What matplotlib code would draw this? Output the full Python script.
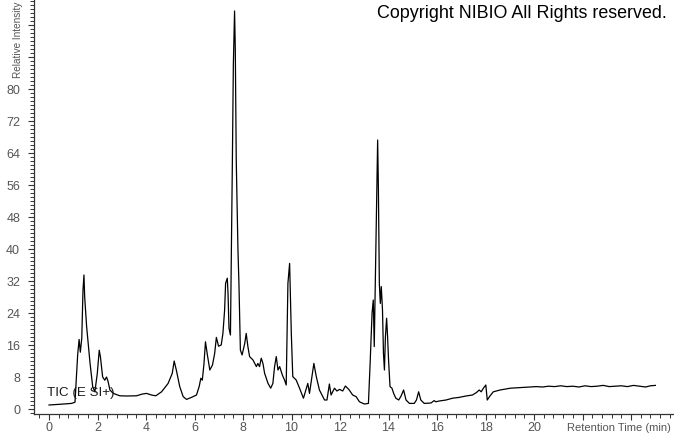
import matplotlib
matplotlib.use("Agg")
import matplotlib.pyplot as plt
from matplotlib.ticker import MultipleLocator

plt.rcParams["font.family"] = ["Liberation Sans", "DejaVu Sans"]

# retention time (min) and relative intensity
rt = [0.00, 0.50, 0.93, 1.07, 1.18, 1.24, 1.29, 1.35, 1.40, 1.44, 1.47, 1.55,
      1.69, 1.80, 1.89, 1.99, 2.07, 2.12, 2.21, 2.30, 2.37, 2.43, 2.51, 2.65,
      2.92, 3.20, 3.61, 3.82, 4.02, 4.22, 4.40, 4.64, 4.91, 5.08, 5.16, 5.25,
      5.39, 5.53, 5.67, 5.87, 6.08, 6.19, 6.26, 6.32, 6.39, 6.45, 6.53, 6.63,
      6.74, 6.83, 6.90, 6.99, 7.10, 7.17, 7.24, 7.28, 7.35, 7.38, 7.42, 7.48,
      7.52, 7.56, 7.60, 7.65, 7.68, 7.72, 7.79, 7.83, 7.89, 7.96, 8.07, 8.13,
      8.20, 8.27, 8.41, 8.55, 8.61, 8.68, 8.75, 8.82, 8.89, 9.03, 9.14, 9.23,
      9.30, 9.37, 9.44, 9.51, 9.62, 9.71, 9.78, 9.85, 9.92, 9.99, 10.05, 10.19,
      10.33, 10.49, 10.53, 10.67, 10.74, 10.92, 11.02, 11.15, 11.36, 11.46,
      11.56, 11.63, 11.77, 11.87, 11.98, 12.11, 12.22, 12.36, 12.52, 12.66,
      12.80, 13.00, 13.17, 13.24, 13.32, 13.37, 13.41, 13.46, 13.52, 13.55,
      13.58, 13.62, 13.66, 13.70, 13.75, 13.79, 13.83, 13.87, 13.92, 13.96,
      14.00, 14.06, 14.14, 14.21, 14.30, 14.42, 14.52, 14.62, 14.72, 14.86,
      15.06, 15.15, 15.24, 15.33, 15.47, 15.75, 15.88, 15.95, 16.09, 16.37,
      16.64, 16.91, 17.19, 17.46, 17.62, 17.74, 17.82, 17.91, 18.01, 18.07,
      18.18, 18.32, 18.60, 19.02, 19.30, 19.57, 19.85, 20.10, 20.35, 20.60,
      20.85, 21.10, 21.35, 21.60, 21.85, 22.10, 22.35, 22.60, 22.85, 23.10,
      23.35, 23.60, 23.85, 24.10, 24.35, 24.60, 24.80, 25.00]
intensity = [1.0, 1.2, 1.4, 1.7, 13.5, 17.4, 14.2, 17.7, 29.7, 33.5, 28.0, 20.6,
             11.5, 5.6, 4.3, 8.9, 14.7, 13.0, 8.0, 7.2, 8.0, 7.0, 4.75, 3.9,
             3.3, 3.25, 3.3, 3.7, 3.9, 3.5, 3.3, 4.3, 6.4, 8.9, 12.0, 9.7,
             5.6, 3.1, 2.4, 2.9, 3.5, 5.6, 7.7, 7.2, 11.4, 16.8, 13.5, 9.75,
             11.0, 13.9, 17.9, 15.7, 16.0, 18.9, 24.75, 31.4, 32.7, 29.0, 20.2, 18.5,
             40.0, 62.0, 86.0, 99.5, 90.0, 62.0, 39.75, 31.5, 14.75, 13.5, 16.4, 18.9,
             15.6, 13.1, 12.25, 10.6, 11.4, 10.6, 12.7, 11.4, 8.9, 6.4, 5.2, 6.4,
             10.6, 13.1, 9.75, 10.6, 8.5, 7.25, 6.0, 31.4, 36.4, 18.9, 8.1, 7.25,
             5.2, 2.7, 3.5, 6.4, 3.9, 11.4, 8.1, 4.75, 2.25, 2.25,
             6.25, 3.5, 5.2, 4.5, 4.9, 4.5, 5.75, 4.9, 3.5, 3.1,
             1.8, 1.25, 1.4, 11.4, 24.0, 27.25, 15.6, 34.0, 55.6, 67.25,
             55.6, 31.4, 26.4, 30.6, 24.75, 13.9, 9.75, 18.0, 22.7, 18.0,
             12.25, 5.6, 5.2, 3.9, 2.7, 2.25, 3.3, 4.75, 2.25, 1.4,
             1.4, 2.25, 4.3, 2.25, 1.4, 1.5, 2.1, 1.8, 2.0, 2.25,
             2.7, 2.9, 3.25, 3.5, 4.1, 4.75, 4.3, 5.2, 6.0, 2.25,
             3.25, 4.3, 4.75, 5.2, 5.3, 5.4, 5.5, 5.6, 5.5, 5.7,
             5.6, 5.8, 5.6, 5.7, 5.5, 5.8, 5.6, 5.7, 5.9, 5.6,
             5.7, 5.8, 5.6, 5.9, 5.7, 5.5, 5.8, 5.9]

x_ticks = [0, 2, 4, 6, 8, 10, 12, 14, 16, 18, 20, 22, 24]
x_labels = ["0", "2", "4", "6", "8", "10", "12", "14", "16", "18", "20", "", ""]
y_ticks = [0, 8, 16, 24, 32, 40, 48, 56, 64, 72, 80, 88, 96]
y_labels = ["0", "8", "16", "24", "32", "40", "48", "56", "64", "72", "80", "", ""]

fig = plt.figure(figsize=(6.74, 4.34), dpi=100)
ax = fig.add_axes([34 / 674, 20 / 434, 640 / 674, 414 / 434])

ax.plot(rt, intensity, color="black", lw=0.9)

ax.set_xlim(-0.62, 25.77)
ax.set_ylim(-1.25, 102.25)
ax.set_xticks(x_ticks)
ax.set_xticklabels(x_labels)
ax.set_yticks(y_ticks)
ax.set_yticklabels(y_labels)
ax.xaxis.set_minor_locator(MultipleLocator(0.4))
ax.yaxis.set_minor_locator(MultipleLocator(1))

for s in ["top", "right"]:
    ax.spines[s].set_visible(False)
for s in ["left", "bottom"]:
    ax.spines[s].set_color("#333333")
    ax.spines[s].set_linewidth(0.9)

ax.tick_params(which="major", length=4, width=0.8, color="#333333",
               labelsize=9, labelcolor="#555555")
ax.tick_params(which="minor", length=3, width=0.7, color="#333333")
ax.tick_params(axis="y", pad=6)
ax.tick_params(axis="x", pad=2)

fig.text(18 / 674, 1 - 78 / 434, "Relative Intensity", rotation=90,
         ha="center", va="bottom", fontsize=7.2, color="#555555")
fig.text(1 - 3 / 674, 1 - 428 / 434, "Retention Time (min)", ha="right",
         va="center", fontsize=8, color="#555555")
fig.text(377 / 674, 1 - 14 / 434, "Copyright NIBIO All Rights reserved.",
         ha="left", va="center", fontsize=12.9, color="black")
ax.text(-0.1, 4.0, "TIC (E SI+)", ha="left", va="center", fontsize=9.6,
        color="#1a1a1a")

fig.savefig("out.png", dpi=100)
